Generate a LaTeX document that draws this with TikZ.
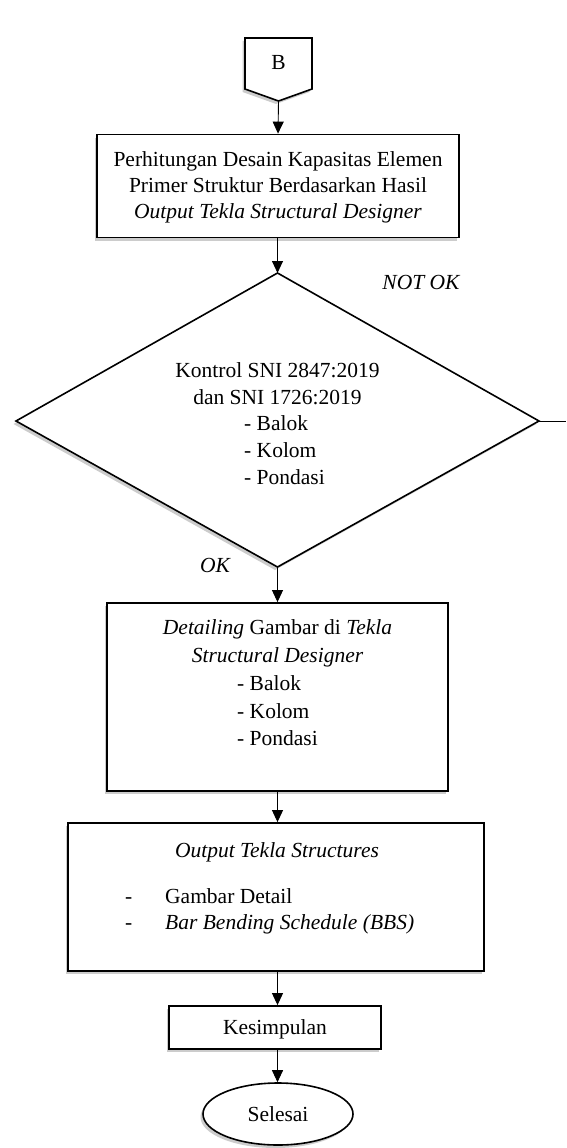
\documentclass[tikz,border=0pt]{standalone}
\usepackage{fontspec}
\setmainfont{Liberation Serif}
\usetikzlibrary{shapes.geometric,arrows.meta,shadows}
\begin{document}
\begin{tikzpicture}[x=1pt,y=-1pt,
  every node/.style={font=\fontsize{21.5}{26}\selectfont, inner sep=0pt},
  shad/.style={drop shadow={shadow xshift=-2.5pt, shadow yshift=-3pt, opacity=0.4}},
  box/.style={draw, line width=1.8pt, fill=white, shad},
  conn/.style={-{Triangle[length=12pt,width=11pt]}, line width=0.9pt},
  txt/.style={anchor=base},
  lst/.style={anchor=base west},
]
\useasboundingbox (0,0) rectangle (566,1148);

% start connector B
\draw[box, line width=1.6pt] (245,38) -- (312,38) -- (312,89) -- (278.5,101) -- (245,89) -- cycle;
\coordinate (Bpt) at (278.5,101);
\node[txt] (Btxt) at (278.5,70) {B};

% box 1
\node[box, minimum width=362pt, minimum height=103pt] (box1) at (278,186) {};
\node[txt] (t1a) at (278,166) {Perhitungan Desain Kapasitas Elemen};
\node[txt] (t1b) at (278,192) {Primer Struktur Berdasarkan Hasil};
\node[txt] (t1c) at (278,218) {\itshape Output Tekla Structural Designer};

% decision diamond
\coordinate (dT) at (277.5,273);
\coordinate (dR) at (539,421);
\coordinate (dB) at (277.5,567);
\coordinate (dL) at (16,421);
\draw[box, line width=1.6pt] (dT) -- (dR) -- (dB) -- (dL) -- cycle;
\node[txt] (c1) at (277.5,377) {Kontrol SNI 2847:2019};
\node[txt] (c2) at (277.5,404) {dan SNI 1726:2019};
\node[lst] (c3) at (244,430) {- Balok};
\node[lst] (c4) at (244,457) {- Kolom};
\node[lst] (c5) at (244,484) {- Pondasi};
\coordinate (nokEnd) at (566,421);
\node[txt] (notok) at (421,289) {\itshape NOT OK};
\node[txt] (ok) at (215,572) {\itshape OK};

% detailing box
\node[box, minimum width=341pt, minimum height=188pt] (det) at (277.5,697) {};
\node[txt] (d1) at (277.5,634) {\itshape Detailing\upshape{} Gambar di \itshape Tekla};
\node[txt] (d2) at (277.5,662) {\itshape Structural Designer};
\node[lst] (d3) at (237,690) {- Balok};
\node[lst] (d4) at (237,718) {- Kolom};
\node[lst] (d5) at (237,745) {- Pondasi};

% output box
\node[box, minimum width=416pt, minimum height=148pt] (out) at (276,897) {};
\node[txt] (o1) at (277,857) {\itshape Output Tekla Structures};
\node[lst] (o2d) at (125,903) {-};
\node[lst] (o2) at (165,903) {Gambar Detail};
\node[lst] (o3d) at (125,929) {-};
\node[lst] (o3) at (165,929) {\itshape Bar Bending Schedule (BBS)};

% kesimpulan
\node[box, minimum width=212pt, minimum height=43pt] (kes) at (275,1027.5) {};
\node[txt] (kt) at (275,1034) {Kesimpulan};

% selesai
\node[box, ellipse, line width=1.6pt, minimum width=150pt, minimum height=62pt] (end) at (278,1114) {};
\node[txt] (et) at (278,1121) {Selesai};

% connectors
\draw[conn] (Bpt) -- (box1.north);
\draw[conn] (box1.south -| dT) -- (dT);
\draw[conn] (dB) -- (dB |- det.north);
\draw[conn] (det.south) -- (det.south |- out.north);
\draw[conn] (out.south -| det.south) -- (det.south |- kes.north);
\draw[conn] (kes.south -| det.south) -- (det.south |- end.north);
\draw[line width=1pt] (dR) -- (nokEnd);
\end{tikzpicture}
\end{document}
